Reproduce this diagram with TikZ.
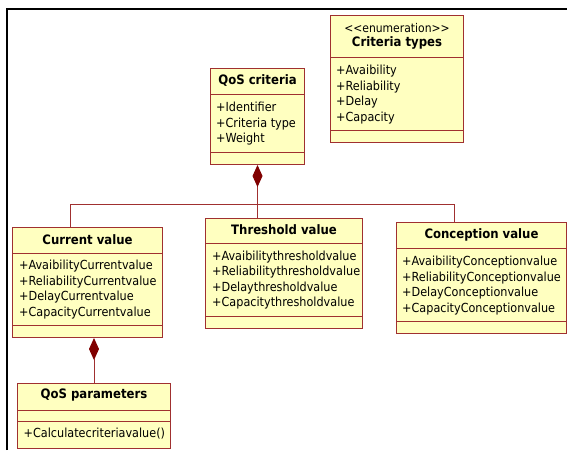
\documentclass[tikz,border=0pt]{standalone}
\usepackage{fontspec}
\setmainfont{DejaVu Sans Condensed}
\usepackage{tikz}
\usetikzlibrary{arrows.meta, calc}
\definecolor{umlborder}{RGB}{160,48,48}
\definecolor{umlfill}{RGB}{255,255,192}
\definecolor{umldiamond}{RGB}{128,0,0}
\begin{document}
\begin{tikzpicture}[x=1pt, y=-1pt,
    classbox/.style={draw=umlborder, fill=umlfill, line width=1pt, anchor=north west, inner sep=0pt},
    title/.style={font=\fontsize{13}{15}\selectfont\bfseries, inner sep=0pt},
    attrs/.style={font=\fontsize{12.5}{15.5}\selectfont, align=left, anchor=west, inner sep=0pt, yshift=-1.5pt},
    sep/.style={draw=umlborder, line width=1pt},
    link/.style={draw=umlborder, line width=1pt},
    comp/.style={link, {Diamond[length=22pt, width=10pt, color=umldiamond, fill=umldiamond]}-}]
                        \useasboundingbox (0,0) rectangle (567,450);
                        \draw[line width=2.2pt] (7,450) -- (7,9) -- (567,9);
                        % classes
                        \node[classbox, minimum width=133pt, minimum height=127pt] (types) at (330,15) {};
                        \node[classbox, minimum width=94pt, minimum height=96pt] (crit) at (210,68) {};
                        \node[classbox, minimum width=150pt, minimum height=110pt] (cur) at (12,227) {};
                        \node[classbox, minimum width=157pt, minimum height=110pt] (thr) at (205,218) {};
                        \node[classbox, minimum width=170pt, minimum height=111pt] (con) at (396,222) {};
                        \node[classbox, minimum width=153pt, minimum height=65pt] (par) at (17,383) {};
                        % compartments
                        \draw[sep] ($(types.north west)+(0,42)$) -- ($(types.north east)+(0,42)$) ($(types.north west)+(0,115)$) -- ($(types.north east)+(0,115)$);
                        \draw[sep] ($(crit.north west)+(0,26)$) -- ($(crit.north east)+(0,26)$) ($(crit.north west)+(0,84)$) -- ($(crit.north east)+(0,84)$);
                        \draw[sep] ($(cur.north west)+(0,26)$) -- ($(cur.north east)+(0,26)$) ($(cur.north west)+(0,98)$) -- ($(cur.north east)+(0,98)$);
                        \draw[sep] ($(thr.north west)+(0,25)$) -- ($(thr.north east)+(0,25)$) ($(thr.north west)+(0,98)$) -- ($(thr.north east)+(0,98)$);
                        \draw[sep] ($(con.north west)+(0,26)$) -- ($(con.north east)+(0,26)$) ($(con.north west)+(0,99)$) -- ($(con.north east)+(0,99)$);
                        \draw[sep] ($(par.north west)+(0,27)$) -- ($(par.north east)+(0,27)$) ($(par.north west)+(0,38)$) -- ($(par.north east)+(0,38)$);
                        % texts
                        \node[font=\fontsize{12}{14}\selectfont, inner sep=0pt] (typesst) at ($(types.north)+(0,13)$) {<\kern0pt<enumeration>\kern0pt>};
                        \node[title] (typest) at ($(types.north)+(0,28)$) {Criteria types};
                        \node[attrs] (typesat) at ($(types.north west)+(6,78)$) {+Avaibility\\+Reliability\\+Delay\\+Capacity};
                        \node[title] (critt) at ($(crit.north)+(0,13)$) {QoS criteria};
                        \node[attrs] (critat) at ($(crit.north west)+(6,54.5)$) {+Identifier\\+Criteria type\\+Weight};
                        \node[title] (curt) at ($(cur.north)+(0,13)$) {Current value};
                        \node[attrs] (curat) at ($(cur.north west)+(7,61)$) {+AvaibilityCurrentvalue\\+ReliabilityCurrentvalue\\+DelayCurrentvalue\\+CapacityCurrentvalue};
                        \node[title] (thrt) at ($(thr.north)+(0,12)$) {Threshold value};
                        \node[attrs] (thrat) at ($(thr.north west)+(7,60.5)$) {+Avaibilitythresholdvalue\\+Reliabilitythresholdvalue\\+Delaythresholdvalue\\+Capacitythresholdvalue};
                        \node[title] (cont) at ($(con.north)+(0,13)$) {Conception value};
                        \node[attrs] (conat) at ($(con.north west)+(6,62)$) {+AvaibilityConceptionvalue\\+ReliabilityConceptionvalue\\+DelayConceptionvalue\\+CapacityConceptionvalue};
                        \node[title] (part) at ($(par.north)+(0,12)$) {QoS parameters};
                        \node[attrs] (parop) at ($(par.north west)+(6.5,49)$) {+Calculatecriteriavalue()};
                        % links
                        \coordinate (jn) at ($(crit.south)+(0,39)$);
                        \draw[comp] (crit.south) -- (jn);
                        \draw[link] (jn) -| ($(cur.north west)+(58,0)$) (jn) -- (jn |- thr.north) (jn) -| ($(con.north west)+(58,0)$);
                        \draw[comp] (cur.south -| par.north) -- (par.north);
                    \end{tikzpicture}
\end{document}
